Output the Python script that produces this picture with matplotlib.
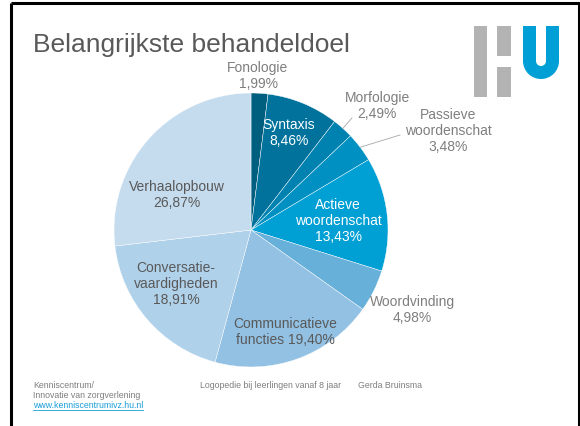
import numpy as np
import matplotlib
matplotlib.use('Agg')
import matplotlib.pyplot as plt
from matplotlib.patches import Rectangle, Wedge

plt.rcParams['font.family'] = ['Liberation Sans', 'DejaVu Sans']

# data
categorieen = ['Fonologie', 'Syntaxis', 'Morfologie', 'Passieve\nwoordenschat',
               'Actieve\nwoordenschat', 'Woordvinding', 'Communicatieve\nfuncties',
               'Conversatie-\nvaardigheden', 'Verhaalopbouw']
percentages = [1.99, 8.46, 2.49, 3.48, 13.43, 4.98, 19.40, 18.91, 26.87]
kleuren = ['#005e7e', '#00729c', '#0082b1', '#0090c2', '#009fd4',
           '#66b0d9', '#92c1e3', '#b0d1ea', '#c5dcef']

# label layout (pixel centres), text colour, leader lines
label_pos = [(258, 76), (289, 133), (377, 106), (448, 131), (338, 221),
             (412, 310), (285, 332), (176, 284), (177, 195)]
label_kleur = ['#7f7f7f', 'white', '#7f7f7f', '#7f7f7f', 'white',
               '#7f7f7f', '#595959', '#595959', '#595959']
leader_eind = {2: (352, 119), 3: (400, 136)}

W, H = 580, 427
cx, cy, R = 251, 231, 137

fig = plt.figure(figsize=(W / 100, H / 100), dpi=100)
fig.patch.set_facecolor('white')

# pie
ax = fig.add_axes([(cx - R) / W, (H - cy - R) / H, 2 * R / W, 2 * R / H])
wedges, _ = ax.pie(percentages, colors=kleuren, startangle=90, counterclock=False,
                   radius=1, wedgeprops=dict(edgecolor='white', linewidth=0.3))
ax.set_xlim(-1, 1)
ax.set_ylim(-1, 1)
ax.axis('off')

# overlay in pixel coordinates
ov = fig.add_axes([0, 0, 1, 1])
ov.set_xlim(0, W)
ov.set_ylim(H, 0)
ov.axis('off')

def fmt(v):
    return f'{v:.2f}'.replace('.', ',') + '%'

for i, (naam, v) in enumerate(zip(categorieen, percentages)):
    if naam.startswith('Communicatieve'):
        tekst = naam + ' ' + fmt(v)
    else:
        tekst = naam + '\n' + fmt(v)
    x, y = label_pos[i]
    ov.text(x, y, tekst, ha='center', va='center', fontsize=10,
            color=label_kleur[i], linespacing=1.15)
    if i in leader_eind:
        w = wedges[i]
        mid = np.deg2rad((w.theta1 + w.theta2) / 2)
        sx, sy = cx + R * np.cos(mid), cy - R * np.sin(mid)
        ex, ey = leader_eind[i]
        ov.plot([sx, ex], [sy, ey], color='#a6a6a6', lw=0.6)

# title
ov.text(33, 45, 'Belangrijkste behandeldoel', fontsize=19, color='#595959',
        ha='left', va='center')

# frame
ov.plot([11, 11], [3.5, H], color='black', lw=2.2, solid_capstyle='butt')
ov.plot([11, W], [3.5, 3.5], color='black', lw=2.2, solid_capstyle='butt')
ov.plot([578.5, 578.5], [3.5, H], color='black', lw=2.2, solid_capstyle='butt')

# HU logo
grijs = '#b3b3b3'
blauw = '#00a0d6'
ov.add_patch(Rectangle((474, 27), 13, 71, color=grijs, lw=0))
ov.add_patch(Rectangle((497, 27), 14, 30, color=grijs, lw=0))
ov.add_patch(Rectangle((497, 68), 14, 30, color=grijs, lw=0))
ov.add_patch(Rectangle((523, 27), 13, 36, color=blauw, lw=0))
ov.add_patch(Rectangle((546, 27), 13, 36, color=blauw, lw=0))
ov.add_patch(Wedge((541, 62), 18, 0, 180, width=13, color=blauw, lw=0))

# footer
voet = '#7f7f7f'
ov.text(33, 381.5, 'Kenniscentrum/\nInnovatie van zorgverlening', fontsize=6.3,
        color=voet, ha='left', va='top', linespacing=1.1)
link = ov.text(33, 401.5, 'www.kenniscentrumivz.hu.nl', fontsize=6.3,
               color='#1a9fd8', ha='left', va='top')
ov.text(200, 381.5, 'Logopedie bij leerlingen vanaf 8 jaar', fontsize=6.3,
        color=voet, ha='left', va='top')
ov.text(358, 381.5, 'Gerda Bruinsma', fontsize=6.3, color=voet, ha='left', va='top')

fig.canvas.draw()
bb = link.get_window_extent(renderer=fig.canvas.get_renderer())
ov.plot([bb.x0, bb.x1], [H - bb.y0 + 0.5, H - bb.y0 + 0.5], color='#1a9fd8', lw=0.6)

fig.savefig('out.png', dpi=100)
